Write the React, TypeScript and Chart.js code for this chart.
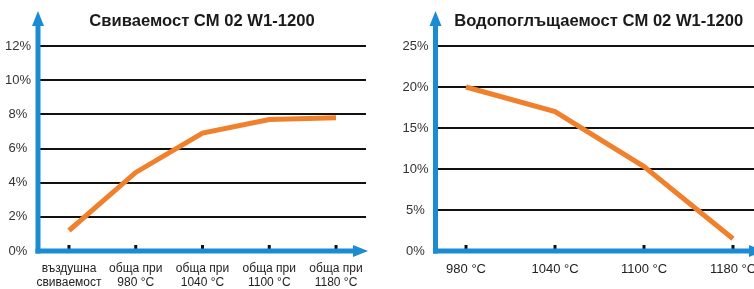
import React, { useEffect, useRef } from "react";
import { Chart, registerables } from "chart.js";

Chart.register(...registerables);

// ---- data ----
const shrinkTitle = "Свиваемост CM 02 W1-1200";
const shrinkLabels: string[][] = [
  ["въздушна", "свиваемост"],
  ["обща при", "980 °C"],
  ["обща при", "1040 °C"],
  ["обща при", "1100 °C"],
  ["обща при", "1180 °C"],
];
const shrinkValues = [1.2, 4.6, 6.9, 7.7, 7.8];
const shrinkYMax = 12;
const shrinkYStep = 2;

const absTitle = "Водопоглъщаемост CM 02 W1-1200";
const absLabels: string[] = ["980 °C", "1040 °C", "1100 °C", "1180 °C"];
const absValues = [20, 17, 10.3, 1.5];
const absYMax = 25;
const absYStep = 5;

const BLUE = "#1b8bd3";
const ORANGE = "#f0802c";
const FONT = "'Liberation Sans', Arial, sans-serif";

const axesPlugin = {
  id: "blueAxes",
  afterDraw(chart: any) {
    const { ctx, chartArea } = chart;
    const { left, right, bottom } = chartArea;
    const x = chart.scales.x;
    ctx.save();
    ctx.fillStyle = "#111";
    x.ticks.forEach((t: any) => {
      const px = x.getPixelForValue(t.value);
      ctx.fillRect(px - 1.5, bottom - 6, 3, 5);
    });
    ctx.strokeStyle = BLUE;
    ctx.fillStyle = BLUE;
    ctx.lineWidth = 5;
    ctx.beginPath();
    ctx.moveTo(left, bottom + 2.5);
    ctx.lineTo(left, 24);
    ctx.stroke();
    ctx.beginPath();
    ctx.moveTo(left, 11);
    ctx.lineTo(left - 6, 26);
    ctx.lineTo(left + 6, 26);
    ctx.closePath();
    ctx.fill();
    ctx.beginPath();
    ctx.moveTo(left - 2.5, bottom);
    ctx.lineTo(right - 10, bottom);
    ctx.stroke();
    ctx.beginPath();
    ctx.moveTo(right + 2, bottom);
    ctx.lineTo(right - 13, bottom - 6);
    ctx.lineTo(right - 13, bottom + 6);
    ctx.closePath();
    ctx.fill();
    ctx.restore();
  },
};

type Cfg = {
  title: string;
  labels: (string | string[])[];
  values: number[];
  yMax: number;
  yStep: number;
  yWidth: number;
  minX: number;
  maxX: number;
  padRight: number;
  xFontSize: number;
  xPad: number;
};

function LineChart(props: Cfg & { width: number; style: React.CSSProperties }) {
  const ref = useRef<HTMLCanvasElement>(null);
  useEffect(() => {
    const { title, labels, values, yMax, yStep, yWidth, minX, maxX, padRight, xFontSize, xPad } = props;
    const chart = new Chart(ref.current!, {
      type: "line",
      data: {
        datasets: [
          {
            data: values.map((v, i) => ({ x: i, y: v })),
            borderColor: ORANGE,
            borderWidth: 5,
            pointRadius: 0,
            tension: 0,
            borderCapStyle: "butt",
          },
        ],
      },
      options: {
        animation: false,
        responsive: false,
        devicePixelRatio: 1,
        layout: { padding: { top: 0, left: 0, right: padRight, bottom: 0 } },
        plugins: {
          legend: { display: false },
          tooltip: { enabled: false },
          title: {
            display: true,
            text: title,
            fullSize: false,
            color: "#1a1a1a",
            font: { family: FONT, size: 16.6, weight: "bold" },
            padding: { top: 11.5, bottom: 14.6 },
          },
        },
        scales: {
          x: {
            type: "linear",
            min: minX,
            max: maxX,
            grid: { display: false },
            border: { display: false },
            afterBuildTicks: (scale: any) => {
              scale.ticks = labels.map((_, i) => ({ value: i }));
            },
            afterFit: (scale: any) => {
              scale.height = 38;
            },
            ticks: {
              autoSkip: false,
              maxRotation: 0,
              padding: xPad,
              color: "#222",
              font: { family: FONT, size: xFontSize, lineHeight: 1.2 },
              callback: (v: any) => labels[v as number] as any,
            },
          },
          y: {
            min: 0,
            max: yMax,
            grid: { color: "#111", lineWidth: 2, drawTicks: false },
            border: { display: false },
            afterFit: (scale: any) => {
              scale.width = yWidth;
            },
            ticks: {
              stepSize: yStep,
              padding: 7,
              crossAlign: "center",
              color: "#333",
              font: { family: FONT, size: 13 },
              callback: (v: any) => v + "%",
            },
          },
        },
      },
      plugins: [axesPlugin],
    } as any);
    return () => chart.destroy();
  }, []);
  return (
    <div style={{ position: "absolute", top: 0, height: 289, width: props.width, ...props.style }}>
      <canvas ref={ref} width={props.width} height={289} style={{ display: "block" }} />
    </div>
  );
}

export default function App() {
  return (
    <div
      style={{
        position: "fixed",
        left: 0,
        top: 0,
        width: 754,
        height: 289,
        overflow: "hidden",
        background: "#fff",
      }}
    >
      <LineChart
        width={377}
        style={{ left: 0 }}
        title={shrinkTitle}
        labels={shrinkLabels}
        values={shrinkValues}
        yMax={shrinkYMax}
        yStep={shrinkYStep}
        yWidth={38}
        minX={-0.464}
        maxX={4.449}
        padRight={11}
        xFontSize={12}
        xPad={2}
      />
      <LineChart
        width={395}
        style={{ left: 377 }}
        title={absTitle}
        labels={absLabels}
        values={absValues}
        yMax={absYMax}
        yStep={absYStep}
        yWidth={58.5}
        minX={-0.343}
        maxX={3.326}
        padRight={10}
        xFontSize={13}
        xPad={3}
      />
    </div>
  );
}
